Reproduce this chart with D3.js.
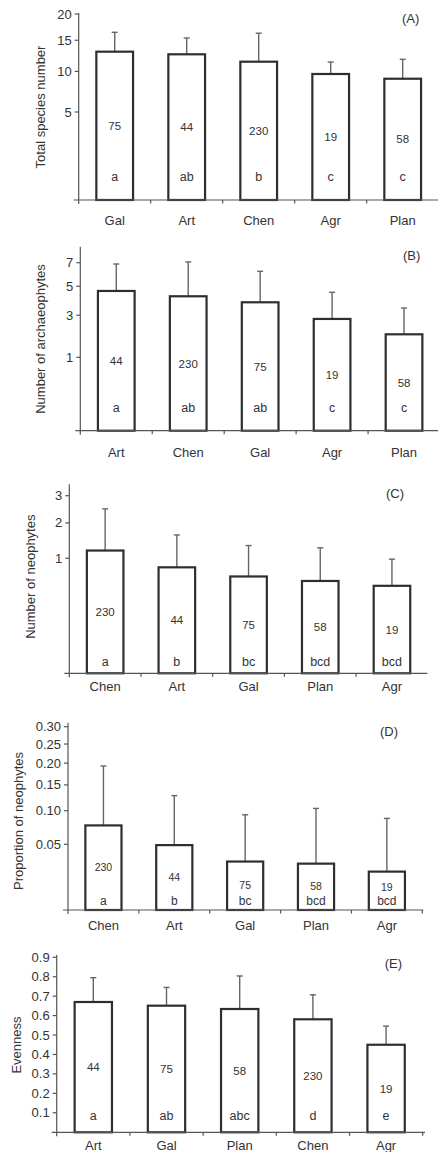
<!DOCTYPE html>
<html>
<head>
<meta charset="utf-8">
<script src="https://cdn.jsdelivr.net/npm/d3@7"></script>
<style>
  html, body { margin: 0; padding: 0; background: #fff; }
  svg { display: block; }
  text { font-family: "Liberation Sans", Arial, sans-serif; fill: #333; }
</style>
</head>
<body>
<svg id="chart" width="438" height="1152"></svg>
<script>
// ---------- Data ----------
// Panel A: Total species number
const catsA = ["Gal", "Art", "Chen", "Agr", "Plan"];
const meanA = [13.05, 12.62, 11.45, 9.63, 8.97];
const upperA = [16.44, 15.4, 16.27, 11.4, 11.82];
const nA = [75, 44, 230, 19, 58];
const lettersA = ["a", "ab", "b", "c", "c"];
const ticksA = [5, 10, 15, 20];

// Panel B: Number of archaeophytes
const catsB = ["Art", "Chen", "Gal", "Agr", "Plan"];
const meanB = [4.64, 4.25, 3.83, 2.78, 1.96];
const upperB = [6.88, 7.07, 6.23, 4.54, 3.45];
const nB = [44, 230, 75, 19, 58];
const lettersB = ["a", "ab", "ab", "c", "c"];
const ticksB = [1, 3, 5, 7];

// Panel C: Number of neophytes
const catsC = ["Chen", "Art", "Gal", "Plan", "Agr"];
const meanC = [1.19, 0.80, 0.62, 0.54, 0.46];
const upperC = [2.49, 1.62, 1.32, 1.26, 0.98];
const nC = [230, 44, 75, 58, 19];
const lettersC = ["a", "b", "bc", "bcd", "bcd"];
const ticksC = [1, 2, 3];

// Panel D: Proportion of neophytes
const catsD = ["Chen", "Art", "Gal", "Plan", "Agr"];
const meanD = [0.076, 0.049, 0.031, 0.029, 0.022];
const upperD = [0.193, 0.128, 0.093, 0.104, 0.087];
const nD = [230, 44, 75, 58, 19];
const lettersD = ["a", "b", "bc", "bcd", "bcd"];
const ticksD = [0.05, 0.10, 0.15, 0.20, 0.25, 0.30];

// Panel E: Evenness
const catsE = ["Art", "Gal", "Plan", "Chen", "Agr"];
const meanE = [0.670, 0.651, 0.634, 0.581, 0.450];
const upperE = [0.795, 0.745, 0.804, 0.707, 0.546];
const nE = [44, 75, 58, 230, 19];
const lettersE = ["a", "ab", "abc", "d", "e"];
const ticksE = [0.1, 0.2, 0.3, 0.4, 0.5, 0.6, 0.7, 0.8, 0.9];

// ---------- Layout ----------
const svg = d3.select("#chart");

const panels = [
  { cats: catsA, mean: meanA, upper: upperA, n: nA, letters: lettersA, ticks: ticksA,
    fmt: d3.format("d"), title: "Total species number", tag: "(A)",
    y: d3.scaleSqrt().domain([5, 20]).range([112, 14]),
    x0: 78.7, x1: 438.7, base: 200, yTop: 13, axisEnd: 438, endTick: false,
    titleX: 40, titleY: 107, tagX: 410.7, tagY: 18.5, catOff: 20.7, letterOff: 23.3,
    nSize: 11.5, letSize: 12.5 },
  { cats: catsB, mean: meanB, upper: upperB, n: nB, letters: lettersB, ticks: ticksB,
    fmt: d3.format("d"), title: "Number of archaeophytes", tag: "(B)",
    y: d3.scaleSqrt().domain([1, 7]).range([357.3, 262.7]),
    x0: 80.3, x1: 440, base: 430.7, yTop: 246.7, axisEnd: 438, endTick: false,
    titleX: 40.7, titleY: 339, tagX: 411.7, tagY: 255, catOff: 21.6, letterOff: 23.4,
    nSize: 11.5, letSize: 12.5 },
  { cats: catsC, mean: meanC, upper: upperC, n: nC, letters: lettersC, ticks: ticksC,
    fmt: d3.format("d"), title: "Number of neophytes", tag: "(C)",
    y: d3.scaleSqrt().domain([1, 3]).range([558.3, 495.7]),
    x0: 69.3, x1: 427.8, base: 673.3, yTop: 484.3, axisEnd: 427.3, endTick: false,
    titleX: 30, titleY: 576.7, tagX: 395, tagY: 493.3, catOff: 13.4, letterOff: 11.6,
    nSize: 11.5, letSize: 12.5 },
  { cats: catsD, mean: meanD, upper: upperD, n: nD, letters: lettersD, ticks: ticksD,
    fmt: d3.format(".2f"), title: "Proportion of neophytes", tag: "(D)",
    y: d3.scaleSqrt().domain([0.05, 0.30]).range([844.3, 726.7]),
    x0: 68, x1: 422.3, base: 910, yTop: 722.7, axisEnd: 423.3, endTick: true,
    titleX: 18.3, titleY: 821, tagX: 389, tagY: 731, catOff: 15, letterOff: 9.5,
    nSize: 10.5, letSize: 12 },
  { cats: catsE, mean: meanE, upper: upperE, n: nE, letters: lettersE, ticks: ticksE,
    fmt: d3.format(".1f"), title: "Evenness", tag: "(E)",
    y: d3.scaleLinear().domain([0, 0.9]).range([1132.2, 957.3]),
    x0: 56.7, x1: 422.7, base: 1132.3, yTop: 955, axisEnd: 425, endTick: true,
    titleX: 16, titleY: 1045, tagX: 393.3, tagY: 963.3, catOff: 12.7, letterOff: 16.3,
    nSize: 11.5, letSize: 12.5 }
];

const axisColor = "#555";
const barStroke = "#2e2e2e";
const errColor = "#666";

panels.forEach(p => {
  const g = svg.append("g");
  const x = d3.scaleBand().domain(p.cats).range([p.x0, p.x1])
    .paddingInner(0.49).paddingOuter(0.245);
  const y = p.y;
  const rows = p.cats.map((c, i) => ({ cat: c, mean: p.mean[i], upper: p.upper[i], n: p.n[i], letter: p.letters[i] }));
  const letterY = p.base - p.letterOff;

  // error bars
  const eb = g.append("g").attr("stroke", errColor).attr("stroke-width", 1.4).attr("fill", "none");
  eb.selectAll("line.v").data(rows).join("line")
    .attr("class", "v")
    .attr("x1", d => x(d.cat) + x.bandwidth() / 2)
    .attr("x2", d => x(d.cat) + x.bandwidth() / 2)
    .attr("y1", d => y(d.mean))
    .attr("y2", d => y(d.upper));
  eb.selectAll("line.cap").data(rows).join("line")
    .attr("class", "cap")
    .attr("x1", d => x(d.cat) + x.bandwidth() / 2 - 3)
    .attr("x2", d => x(d.cat) + x.bandwidth() / 2 + 3)
    .attr("y1", d => y(d.upper))
    .attr("y2", d => y(d.upper));

  // bars
  g.selectAll("rect.bar").data(rows).join("rect")
    .attr("class", "bar")
    .attr("x", d => x(d.cat))
    .attr("width", x.bandwidth())
    .attr("y", d => y(d.mean))
    .attr("height", d => p.base - y(d.mean))
    .attr("fill", "#fff")
    .attr("stroke", barStroke)
    .attr("stroke-width", 2.2);

  // n labels (at bar mid-height, kept clear of the letters)
  g.selectAll("text.n").data(rows).join("text")
    .attr("class", "n")
    .attr("x", d => x(d.cat) + x.bandwidth() / 2)
    .attr("y", d => Math.min((y(d.mean) + p.base) / 2, letterY - 13))
    .attr("dy", "0.35em")
    .attr("text-anchor", "middle")
    .attr("font-size", p.nSize)
    .text(d => d.n);

  // significance letters
  g.selectAll("text.let").data(rows).join("text")
    .attr("class", "let")
    .attr("x", d => x(d.cat) + x.bandwidth() / 2)
    .attr("y", letterY)
    .attr("dy", "0.35em")
    .attr("text-anchor", "middle")
    .attr("font-size", p.letSize)
    .text(d => d.letter);

  // axes
  const ax = g.append("g").attr("stroke", axisColor).attr("stroke-width", 1.2);
  ax.append("line").attr("x1", p.x0 - 5).attr("x2", p.axisEnd).attr("y1", p.base).attr("y2", p.base);
  ax.append("line").attr("x1", p.x0).attr("x2", p.x0).attr("y1", p.yTop).attr("y2", p.base + 4);
  const bounds = p.cats.slice(1).map(c => x(c) - x.step() * x.paddingInner() / 2);
  if (p.endTick) bounds.push(p.x1);
  ax.selectAll("line.xt").data(bounds).join("line")
    .attr("class", "xt")
    .attr("x1", d => d).attr("x2", d => d)
    .attr("y1", p.base).attr("y2", p.base + 3.5);
  ax.selectAll("line.yt").data(p.ticks).join("line")
    .attr("class", "yt")
    .attr("x1", p.x0 - 4).attr("x2", p.x0)
    .attr("y1", d => y(d)).attr("y2", d => y(d));

  g.selectAll("text.yl").data(p.ticks).join("text")
    .attr("class", "yl")
    .attr("x", p.x0 - 7)
    .attr("y", d => y(d))
    .attr("dy", "0.35em")
    .attr("text-anchor", "end")
    .attr("font-size", 13)
    .text(d => p.fmt(d));

  // category labels
  g.selectAll("text.cat").data(rows).join("text")
    .attr("class", "cat")
    .attr("x", d => x(d.cat) + x.bandwidth() / 2)
    .attr("y", p.base + p.catOff)
    .attr("dy", "0.35em")
    .attr("text-anchor", "middle")
    .attr("font-size", 13)
    .text(d => d.cat);

  // y title
  g.append("text")
    .attr("transform", `translate(${p.titleX},${p.titleY}) rotate(-90)`)
    .attr("text-anchor", "middle")
    .attr("dy", "0.35em")
    .attr("font-size", 13)
    .text(p.title);

  // panel tag
  g.append("text")
    .attr("x", p.tagX).attr("y", p.tagY)
    .attr("dy", "0.35em")
    .attr("text-anchor", "middle")
    .attr("font-size", 13)
    .text(p.tag);
});
</script>
</body>
</html>
